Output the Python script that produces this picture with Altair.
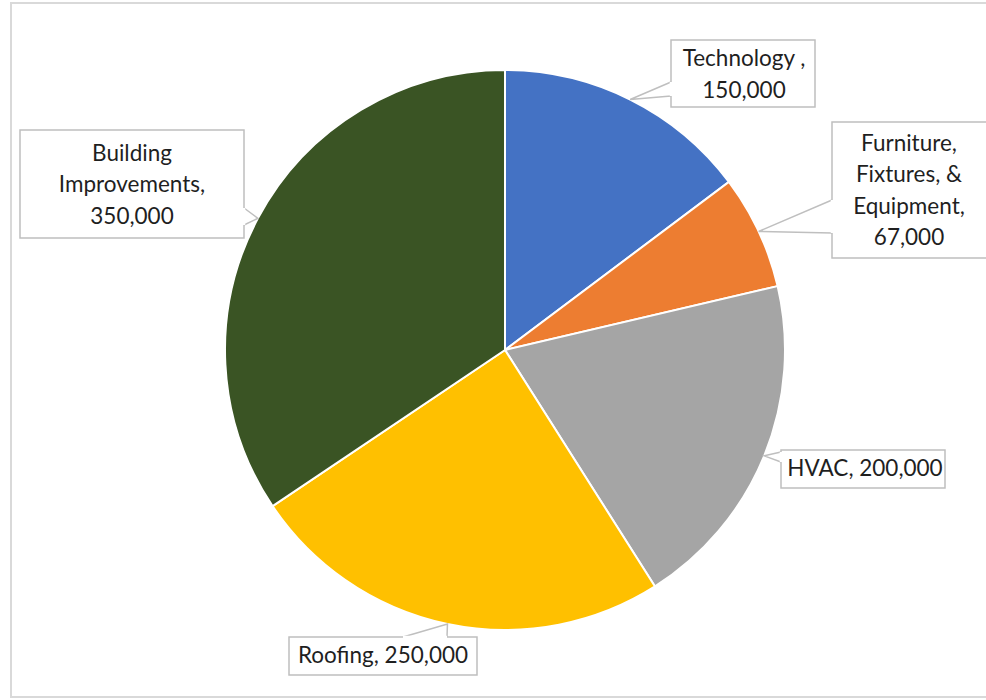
import math
import altair as alt
import pandas as pd

# ---- data ----
categories = ["Technology", "Furniture, Fixtures, & Equipment", "HVAC", "Roofing", "Building Improvements"]
values = [150000, 67000, 200000, 250000, 350000]
colors = ["#4472C4", "#ED7D31", "#A5A5A5", "#FFC000", "#3A5424"]
label_lines = [
    "Technology ,\n150,000",
    "Furniture,\nFixtures, &\nEquipment,\n67,000",
    "HVAC, 200,000",
    "Roofing, 250,000",
    "Building\nImprovements,\n350,000",
]

# ---- callout layout (offsets from the pie centre, in px units of the shared scales) ----
box_x = [(166, 310), (327, 482), (276, 440), (-216, -28), (-485, -261)]
box_y = [(-310, -243), (-228, -92), (100, 138), (287, 325), (-220, -112)]
text_xy = [(239, -275), (404, -159), (360, 119), (-122, 306), (-373, -165)]
base_pts = [
    [(166, -268), (166, -254)],
    [(327, -150), (327, -117)],
    [(276, 102), (276, 112)],
    [(-102, 287), (-58, 287)],
    [(-261, -142), (-261, -125)],
]
R = 280
W, H = 986, 700
CX, CY = 505, 350
LINE_H = 31.5

xs = alt.Scale(domain=[-CX, W - CX], range=[0, W], nice=False, zero=False)
ys = alt.Scale(domain=[-CY, H - CY], range=[0, H], nice=False, zero=False)

pie_df = pd.DataFrame({"category": categories, "value": values, "idx": list(range(len(values)))})

pie = alt.Chart(pie_df).mark_arc(radius=R, stroke="white", strokeWidth=2).encode(
    theta=alt.Theta("value:Q", stack=True),
    color=alt.Color("category:N", scale=alt.Scale(domain=categories, range=colors), legend=None),
    order=alt.Order("idx:Q"),
    x=alt.X(datum=0, type="quantitative", scale=xs, axis=None),
    y=alt.Y(datum=0, type="quantitative", scale=ys, axis=None),
)

# leader wedge tips at slice mid-angles
total = sum(values)
cum = 0
rows = []
cover = []
for i, v in enumerate(values):
    mid = (cum + v / 2) / total * 2 * math.pi
    cum += v
    tip = (R * math.sin(mid), -R * math.cos(mid))
    (a, b) = base_pts[i]
    for k, p in enumerate([a, tip, b]):
        rows.append({"label": categories[i], "o": k, "x": p[0], "y": p[1]})
    cover.append({"label": categories[i], "x": a[0], "y": a[1], "x2": b[0], "y2": b[1]})
lead_df = pd.DataFrame(rows)
cover_df = pd.DataFrame(cover)

leaders = alt.Chart(lead_df).mark_line(color="#BFBFBF", strokeWidth=1.5).encode(
    x=alt.X("x:Q", scale=xs, axis=None),
    y=alt.Y("y:Q", scale=ys, axis=None),
    detail="label:N",
    order="o:Q",
)

box_df = pd.DataFrame({
    "label": categories,
    "x": [b[0] for b in box_x], "x2": [b[1] for b in box_x],
    "y": [b[0] for b in box_y], "y2": [b[1] for b in box_y],
})
boxes = alt.Chart(box_df).mark_rect(fill="white", stroke="#BFBFBF", strokeWidth=1.5).encode(
    x=alt.X("x:Q", scale=xs, axis=None), x2="x2:Q",
    y=alt.Y("y:Q", scale=ys, axis=None), y2="y2:Q",
)

covers = alt.Chart(cover_df).mark_rule(color="white", strokeWidth=2.5).encode(
    x=alt.X("x:Q", scale=xs, axis=None), x2="x2:Q",
    y=alt.Y("y:Q", scale=ys, axis=None), y2="y2:Q",
)

# first-line y so that the block of lines is centred on text_xy
first_y = [t[1] - (s.count("\n")) * LINE_H / 2 for t, s in zip(text_xy, label_lines)]
text_df = pd.DataFrame({
    "label": categories,
    "t": label_lines,
    "x": [t[0] for t in text_xy],
    "y": first_y,
})
texts = alt.Chart(text_df).mark_text(
    font="Lato", fontSize=22.5, color="#1F1F1F", align="center", baseline="middle",
    lineBreak="\n", lineHeight=LINE_H,
).encode(
    x=alt.X("x:Q", scale=xs, axis=None),
    y=alt.Y("y:Q", scale=ys, axis=None),
    text="t:N",
)

frame_df = pd.DataFrame({"x": [-CX + 11], "x2": [W - CX + 20], "y": [-CY + 3], "y2": [H - CY - 3]})
frame = alt.Chart(frame_df).mark_rect(fill="transparent", stroke="#D9D9D9", strokeWidth=2).encode(
    x=alt.X("x:Q", scale=xs, axis=None), x2="x2:Q",
    y=alt.Y("y:Q", scale=ys, axis=None), y2="y2:Q",
)

chart = alt.layer(frame, pie, leaders, boxes, covers, texts).properties(
    width=W, height=H, autosize=alt.AutoSizeParams(type="none"), padding=0,
    background="white",
).configure_view(stroke=None)

chart.save("out.html", embed_options={"renderer": "svg", "actions": False})
